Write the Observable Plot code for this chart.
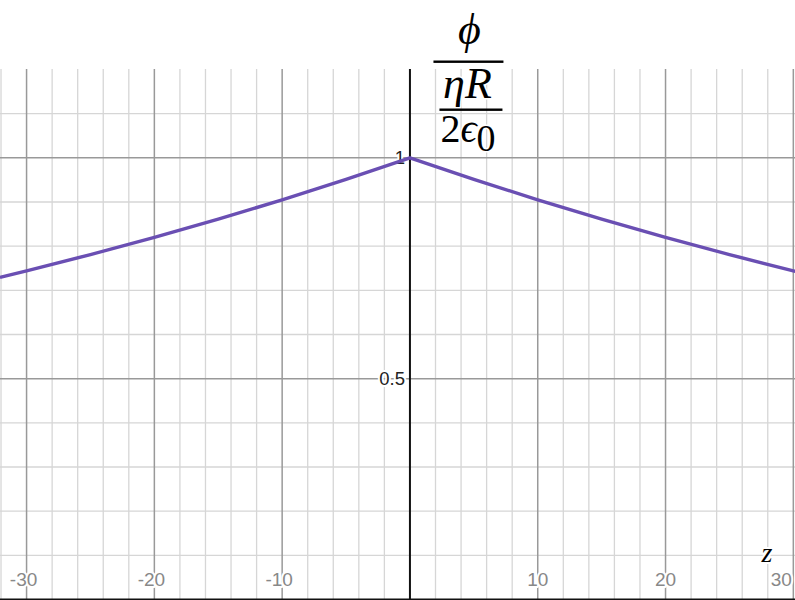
<!DOCTYPE html>
<html>
<head>
<meta charset="utf-8">
<script src="https://cdn.jsdelivr.net/npm/d3@7"></script>
<script src="https://cdn.jsdelivr.net/npm/@observablehq/plot@0.6"></script>
<style>
  html, body { margin: 0; padding: 0; background: white; }
  svg text { paint-order: stroke; }
</style>
</head>
<body>
<div id="chart"></div>
<script>
// Curve: normalized potential vs z
const zVals   = [-32, -30, -25, -20, -15, -10, -5, 0, 5, 10, 15, 20, 25, 30, 31];
const phiVals = [0.730, 0.744, 0.781, 0.820, 0.861, 0.905, 0.951, 1.000, 0.951, 0.905, 0.861, 0.820, 0.781, 0.744, 0.737];

// Grid / tick values
const xMajorTicks = [-30, -20, -10, 10, 20, 30];
const xMinorTicks = [-32, -28, -26, -24, -22, -18, -16, -14, -12, -8, -6, -4, -2, 2, 4, 6, 8, 12, 14, 16, 18, 22, 24, 26, 28];
const yMajorTicks = [0.5, 1];
const yMinorTicks = [0.1, 0.2, 0.3, 0.4, 0.6, 0.7, 0.8, 0.9, 1.1];
const xLabelsNeg = [-30, -20, -10];
const xLabelsPos = [10, 20];
const xLabelsEdge = [30];
const yLabels = [0.5, 1];

const data = zVals.map((z, i) => ({z, phi: phiVals[i]}));
const sans = "Liberation Sans, Arial, sans-serif";

const plot = Plot.plot({
  width: 795,
  height: 600,
  marginLeft: 0,
  marginRight: 0,
  marginTop: 69,
  marginBottom: 1,
  x: {domain: [-32.04, 30.17], axis: null},
  y: {domain: [0, 1.2], axis: null},
  style: {background: "white", overflow: "visible"},
  marks: [
    Plot.ruleX(xMinorTicks, {stroke: "#d6d6d6", strokeWidth: 1.3}),
    Plot.ruleY(yMinorTicks, {stroke: "#d6d6d6", strokeWidth: 1.3}),
    Plot.ruleX(xMajorTicks, {stroke: "#999", strokeWidth: 1.5}),
    Plot.ruleY(yMajorTicks, {stroke: "#999", strokeWidth: 1.5}),
    Plot.text(xLabelsNeg, {x: d => d, frameAnchor: "bottom", dy: -14, dx: -3, text: d => String(d),
      fill: "#888", stroke: "white", strokeWidth: 4, fontSize: 19, fontFamily: sans}),
    Plot.text(xLabelsPos, {x: d => d, frameAnchor: "bottom", dy: -14, text: d => String(d),
      fill: "#888", stroke: "white", strokeWidth: 4, fontSize: 19, fontFamily: sans}),
    Plot.text(xLabelsEdge, {x: d => d, frameAnchor: "bottom", dy: -14, dx: -12, text: d => String(d),
      fill: "#888", stroke: "white", strokeWidth: 4, fontSize: 19, fontFamily: sans}),
    Plot.text(yLabels, {x: 0, y: d => d, dx: -5, textAnchor: "end", text: d => String(d),
      fill: "#222", stroke: "white", strokeWidth: 4, fontSize: 18.5, fontFamily: sans}),
    Plot.ruleX([0], {stroke: "#111", strokeWidth: 2}),
    Plot.ruleY([0], {stroke: "#111", strokeWidth: 2}),
    Plot.line(data, {x: "z", y: "phi", stroke: "#6a4fb3", strokeWidth: 3.4}),
    Plot.text(["z"], {frameAnchor: "bottom-right", dx: -23, dy: -38, text: d => d, textAnchor: "end",
      fill: "#000", stroke: "white", strokeWidth: 4, fontSize: 28, fontStyle: "italic", fontFamily: "Liberation Serif, Times New Roman, serif"})
  ]
});

document.getElementById("chart").appendChild(plot);

// Vertical-axis label as a stacked fraction, placed relative to the axis via the plot's scales
const sx = plot.scale("x"), sy = plot.scale("y");
const x0 = sx.apply(0);
const yTop = sy.apply(1.2);
const svg = d3.select(plot);
const g = svg.append("g")
  .attr("font-family", "Liberation Serif, Times New Roman, DejaVu Serif, serif")
  .attr("fill", "#000");

function label(txt, cx, baseline, opts = {}) {
  return g.append("text")
    .attr("x", cx).attr("y", baseline)
    .attr("text-anchor", opts.anchor || "middle")
    .attr("font-style", opts.italic ? "italic" : "normal")
    .attr("font-size", opts.size || 42)
    .attr("stroke", "white").attr("stroke-width", 3)
    .text(txt);
}
label("ϕ", x0 + 60, yTop - 25, {italic: true, size: 44});
g.append("rect").attr("x", x0 + 24).attr("y", yTop - 8.5).attr("width", 70).attr("height", 2.4).attr("fill", "#000");
label("ηR", x0 + 58, yTop + 29, {italic: true, size: 44});
g.append("rect").attr("x", x0 + 30).attr("y", yTop + 39.5).attr("width", 63).attr("height", 2.4).attr("fill", "#000");
const t = g.append("text").attr("x", x0 + 31).attr("y", yTop + 73).attr("text-anchor", "start")
  .attr("font-size", 40).attr("stroke", "white").attr("stroke-width", 3);
t.append("tspan").text("2");
t.append("tspan").attr("font-style", "italic").text("ϵ");
t.append("tspan").attr("dy", 9).attr("font-size", 38).text("0");
</script>
</body>
</html>
